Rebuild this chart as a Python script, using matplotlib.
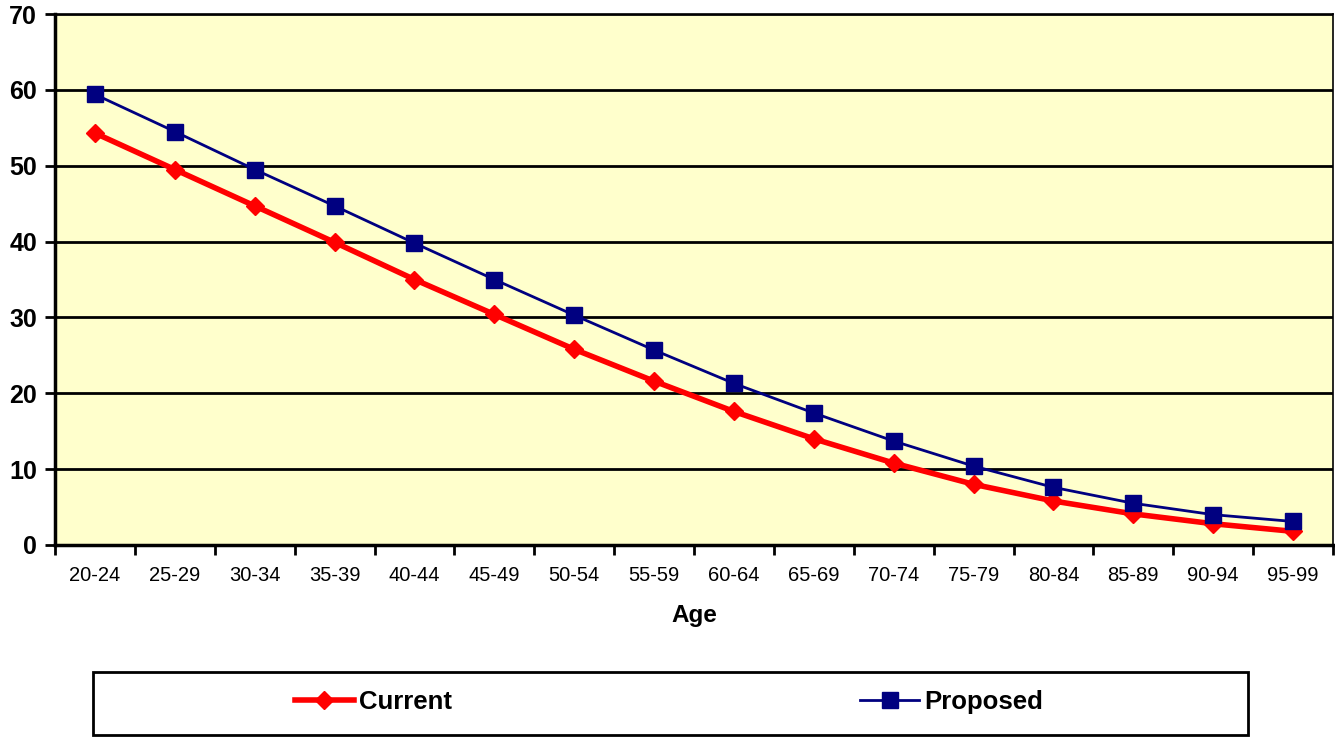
import matplotlib.pyplot as plt
from matplotlib.lines import Line2D
from matplotlib.patches import Rectangle

ages = ["20-24", "25-29", "30-34", "35-39", "40-44", "45-49", "50-54", "55-59",
        "60-64", "65-69", "70-74", "75-79", "80-84", "85-89", "90-94", "95-99"]
current = [54.3, 49.5, 44.7, 39.9, 35.0, 30.4, 25.8, 21.6,
           17.6, 14.0, 10.8, 8.0, 5.8, 4.1, 2.8, 1.8]
proposed = [59.4, 54.5, 49.5, 44.7, 39.8, 35.0, 30.3, 25.7,
            21.3, 17.4, 13.7, 10.4, 7.6, 5.5, 4.0, 3.1]
yticks = [0, 10, 20, 30, 40, 50, 60, 70]

plt.rcParams["font.family"] = ["Liberation Sans", "DejaVu Sans"]

W, H = 1335, 738
fig = plt.figure(figsize=(W / 100, H / 100), dpi=100)
ax = fig.add_axes([55 / W, 1 - 545 / H, 1278 / W, 531 / H])
ax.set_facecolor("#ffffcc")

x = list(range(len(ages)))
ax.plot(x, current, color="#ff0000", lw=4, marker="D", ms=9,
        mec="#ff0000", mfc="#ff0000", zorder=3)
ax.plot(x, proposed, color="#000080", lw=2, marker="s", ms=11.5,
        mec="#000080", mfc="#000080", zorder=4)

ax.set_xlim(-0.5, len(ages) - 0.5)
ax.set_ylim(0, 70)
ax.set_yticks(yticks)
ax.set_yticklabels([str(t) for t in yticks], fontsize=18, fontweight="bold")
ax.yaxis.grid(True, color="black", lw=2)
ax.set_axisbelow(True)

# category labels centred, ticks on the boundaries
ax.set_xticks([i - 0.5 for i in range(len(ages) + 1)])
ax.set_xticklabels([])
ax.set_xticks(x, minor=True)
ax.set_xticklabels(ages, minor=True, fontsize=14.5)
ax.tick_params(axis="x", which="minor", length=0, pad=15)
ax.tick_params(axis="x", which="major", length=7, width=2, direction="out")
ax.tick_params(axis="y", length=7, width=2, pad=6)

for side in ["left", "bottom"]:
    ax.spines[side].set_linewidth(2.5)
for side in ["top", "right"]:
    ax.spines[side].set_linewidth(1.2)

ax.set_xlabel("Age", fontsize=17.5, fontweight="bold", labelpad=14)

# legend box
fig.patches.append(Rectangle((93 / W, 1 - 735 / H), 1155 / W, 63 / H,
                             transform=fig.transFigure, fill=False,
                             edgecolor="black", lw=2))
handles = [
    Line2D([], [], color="#ff0000", lw=4, marker="D", ms=9),
    Line2D([], [], color="#000080", lw=2, marker="s", ms=11.5),
]
fig.legend(handles, ["Current", "Proposed"], loc="center",
           bbox_to_anchor=(669 / W, 1 - 702 / H), ncol=2, frameon=False,
           handlelength=2.3, handletextpad=0.2, columnspacing=15.9,
           prop={"size": 18.5, "weight": "bold"})

fig.savefig("out.png", dpi=100)
